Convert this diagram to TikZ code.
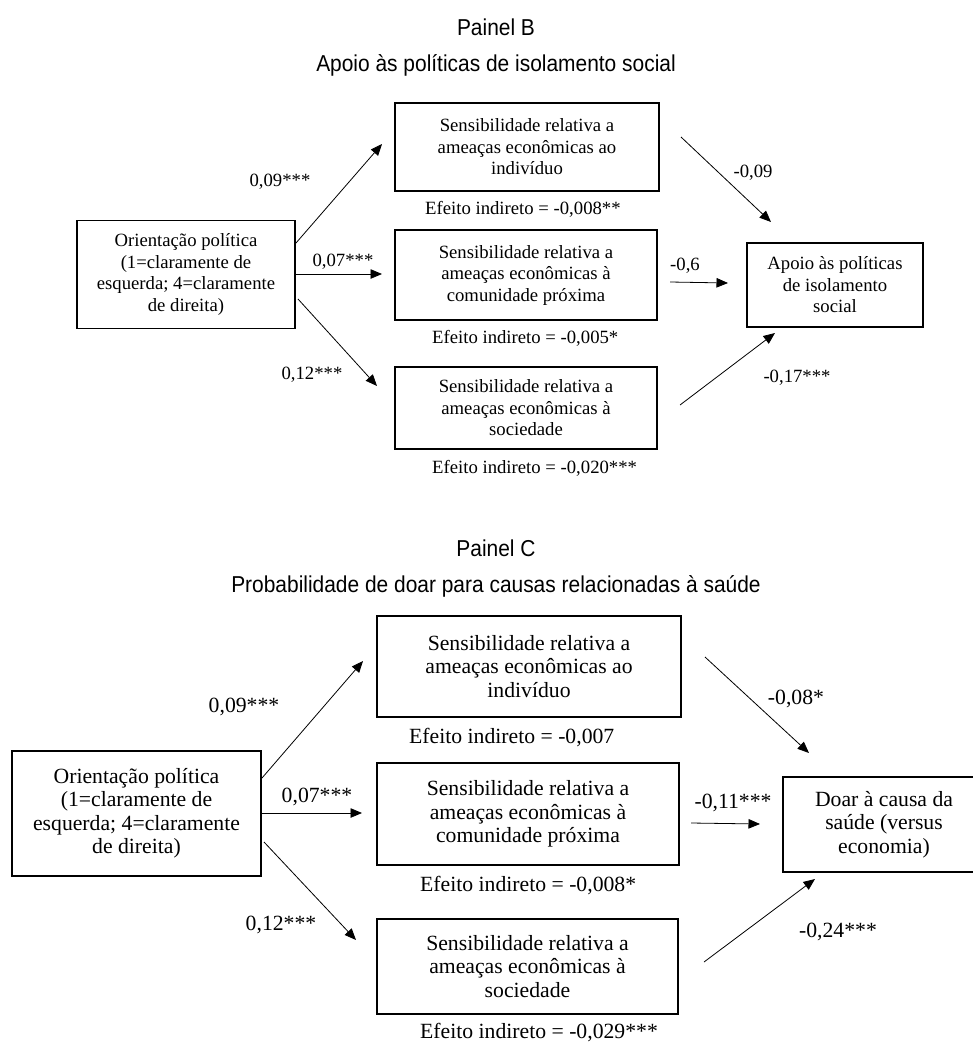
\documentclass[tikz,border=0pt]{standalone}
\usepackage{fontspec}
\setmainfont{Liberation Serif}
\newfontfamily\titlefont[FakeStretch=0.91]{Liberation Sans}
\usetikzlibrary{arrows.meta}
\tikzset{
  ttl/.style={inner sep=0pt, font=\titlefont\fontsize{23}{27}\selectfont},
  boxb/.style={draw, line width=1.6pt, inner sep=0pt, align=center, font=\fontsize{18.7}{21.5}\selectfont},
  boxc/.style={draw, line width=1.6pt, inner sep=0pt, align=center, font=\fontsize{21.7}{23.5}\selectfont},
  labb/.style={inner sep=0pt, font=\fontsize{18.7}{21.5}\selectfont},
  labc/.style={inner sep=0pt, font=\fontsize{21.7}{23.5}\selectfont},
  arr/.style={line width=0.8pt, -{Triangle[length=11.5pt,width=9.5pt]}}
}
\begin{document}
\begin{tikzpicture}[x=1pt,y=-1pt]
\useasboundingbox (0,0) rectangle (972,1044);
% ---------------- Panel B ----------------
\node[ttl] (tB) at (496,27) {Painel B};
\node[ttl] (sB) at (496,65) {Apoio às políticas de isolamento social};

\node[boxb, minimum width=218pt, minimum height=108pt] (L1) at (186,274.5)
  {Orientação política\\(1=claramente de\\esquerda; 4=claramente\\de direita)};
\node[boxb, minimum width=264pt, minimum height=88pt] (T1) at (527,147)
  {Sensibilidade relativa a\\ameaças econômicas ao\\indivíduo};
\node[boxb, minimum width=262pt, minimum height=90pt] (M1) at (526,275)
  {Sensibilidade relativa a\\ameaças econômicas à\\comunidade próxima};
\node[boxb, minimum width=262pt, minimum height=82pt] (B1) at (526,408)
  {Sensibilidade relativa a\\ameaças econômicas à\\sociedade};
\node[boxb, minimum width=176pt, minimum height=84pt] (R1) at (835,285)
  {Apoio às políticas\\de isolamento\\social};

\node[labb, anchor=west] (e1B) at (425,209) {Efeito indireto = -0,008**};
\node[labb, anchor=west] (e2B) at (432,338) {Efeito indireto = -0,005*};
\node[labb, anchor=west] (e3B) at (432,468) {Efeito indireto = -0,020***};

\coordinate (a1s) at (296,243); \coordinate (a1e) at (382,144);
\coordinate (a2s) at (296,274); \coordinate (a2e) at (382,274);
\coordinate (a3s) at (298,299); \coordinate (a3e) at (377,386);
\coordinate (b1s) at (681,137); \coordinate (b1e) at (771,222);
\coordinate (b2s) at (670,282); \coordinate (b2e) at (728,283);
\coordinate (b3s) at (680,405); \coordinate (b3e) at (775,333);
\draw[arr] (a1s) -- (a1e);
\draw[arr] (a2s) -- (a2e);
\draw[arr] (a3s) -- (a3e);
\draw[arr] (b1s) -- (b1e);
\draw[arr] (b2s) -- (b2e);
\draw[arr] (b3s) -- (b3e);

\node[labb] (c1B) at (280,182) {0,09***};
\node[labb] (c2B) at (343,262) {0,07***};
\node[labb] (c3B) at (312,375) {0,12***};
\node[labb] (d1B) at (753,173) {-0,09};
\node[labb] (d2B) at (685,266) {-0,6};
\node[labb] (d3B) at (797,378) {-0,17***};

% ---------------- Panel C ----------------
\node[ttl] (tC) at (496,548) {Painel C};
\node[ttl] (sC) at (496,586) {Probabilidade de doar para causas relacionadas à saúde};

\node[boxc, minimum width=249pt, minimum height=125pt] (L2) at (136.5,813.5)
  {Orientação política\\(1=claramente de\\esquerda; 4=claramente\\de direita)};
\node[boxc, minimum width=304pt, minimum height=101pt] (T2) at (529,666.5)
  {Sensibilidade relativa a\\ameaças econômicas ao\\indivíduo};
\node[boxc, minimum width=302pt, minimum height=102pt] (M2) at (528,814)
  {Sensibilidade relativa a\\ameaças econômicas à\\comunidade próxima};
\node[boxc, minimum width=301pt, minimum height=95pt] (B2) at (527.5,966.5)
  {Sensibilidade relativa a\\ameaças econômicas à\\sociedade};
\node[boxc, minimum width=202pt, minimum height=95pt] (R2) at (884,824.5)
  {Doar à causa da\\saúde (versus\\economia)};

\node[labc, anchor=west] (e1C) at (409,738) {Efeito indireto = -0,007};
\node[labc, anchor=west] (e2C) at (420,886) {Efeito indireto = -0,008*};
\node[labc, anchor=west] (e3C) at (420,1033) {Efeito indireto = -0,029***};

\coordinate (p1s) at (262,778); \coordinate (p1e) at (363,661);
\coordinate (p2s) at (262,813); \coordinate (p2e) at (362,813);
\coordinate (p3s) at (264,842); \coordinate (p3e) at (356,940);
\coordinate (q1s) at (705,657); \coordinate (q1e) at (809,753);
\coordinate (q2s) at (691,823); \coordinate (q2e) at (760,824);
\coordinate (q3s) at (704,962); \coordinate (q3e) at (815,879);
\draw[arr] (p1s) -- (p1e);
\draw[arr] (p2s) -- (p2e);
\draw[arr] (p3s) -- (p3e);
\draw[arr] (q1s) -- (q1e);
\draw[arr] (q2s) -- (q2e);
\draw[arr] (q3s) -- (q3e);

\node[labc] (c1C) at (244,707) {0,09***};
\node[labc] (c2C) at (317,797) {0,07***};
\node[labc] (c3C) at (281,925) {0,12***};
\node[labc] (d1C) at (796,699) {-0,08*};
\node[labc] (d2C) at (733,803) {-0,11***};
\node[labc] (d3C) at (838,932) {-0,24***};
\end{tikzpicture}
\end{document}
